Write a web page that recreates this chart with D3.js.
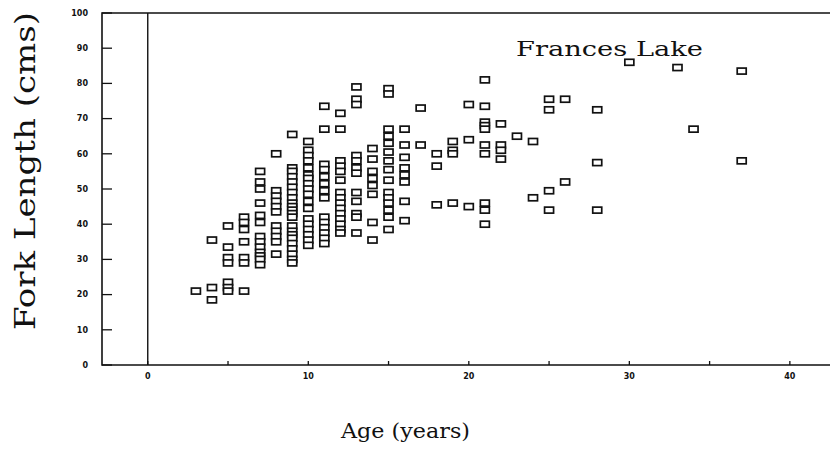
<!DOCTYPE html>
<html>
<head>
<meta charset="utf-8">
<script src="https://cdn.jsdelivr.net/npm/d3@7/dist/d3.min.js"></script>
<style>
  html, body { margin: 0; padding: 0; background: #fff; }
  svg { display: block; }
</style>
</head>
<body>
<svg id="chart" width="830" height="454"></svg>
<script>
// ages (years) and the fork lengths (cm) read at each age
const ages = [3, 4, 5, 6, 7, 8, 9, 10, 11, 12, 13, 14, 15, 16, 17, 18, 19, 20, 21, 22, 23, 24, 25, 26, 28, 30, 33, 34, 37];
const lengths = [
  [21],
  [35.5, 22, 18.5],
  [39.5, 33.5, 30.5, 29, 23.5, 22, 21],
  [42, 40.5, 38.5, 35, 30.5, 29, 21],
  [55, 52, 50, 46, 42.5, 40.5, 36.5, 35, 33.5, 32, 31, 30, 28.5],
  [60, 49.5, 48, 46.5, 45, 43.5, 39.5, 38, 36.5, 35, 31.5],
  [65.5, 56, 55, 53.5, 52, 50.5, 49, 47.5, 46, 45, 44, 43, 42, 39.5, 38, 37, 36, 34.5, 33, 31.5, 30, 29],
  [63.5, 61, 59.5, 58, 56, 54, 53, 51.5, 50, 48.5, 46.5, 44.5, 41.5, 40, 38.5, 37, 35.5, 34],
  [73.5, 67, 57, 55.5, 53.5, 51.5, 49.5, 47.5, 42, 40.5, 39, 37.5, 36, 34.5],
  [71.5, 67, 58, 56.5, 55, 52.5, 49, 47.5, 46, 44.5, 43, 41.5, 40, 38.5, 37.5],
  [79, 75.5, 74, 59.5, 58, 56, 54.5, 49, 46.5, 43, 42, 37.5],
  [61.5, 58.5, 55, 53, 51, 48.5, 40.5, 35.5],
  [78.5, 77, 67, 65, 63, 60.5, 58, 55.5, 52.5, 49, 47.5, 46, 44, 42, 38.5],
  [67, 62.5, 59, 56, 54, 52, 46.5, 41],
  [73, 62.5],
  [60, 56.5, 45.5],
  [63.5, 61, 60, 46],
  [74, 64, 45],
  [81, 73.5, 69, 68, 67, 62.5, 60, 46, 44, 40],
  [68.5, 62.5, 61, 58.5],
  [65],
  [63.5, 47.5],
  [75.5, 72.5, 49.5, 44],
  [75.5, 52],
  [72.5, 57.5, 44],
  [86],
  [84.5],
  [67],
  [83.5, 58]
];
const yTicks = [0, 10, 20, 30, 40, 50, 60, 70, 80, 90, 100];
const xLabelTicks = [0, 10, 20, 30, 40];
const xMinorTicks = [0, 5, 10, 15, 20, 25, 30, 35, 40];

const points = ages.flatMap((a, i) => lengths[i].map(v => ({ age: a, len: v })));

const svg = d3.select("#chart");
const plotLeft = 102, plotRight = 830, plotTop = 13, plotBottom = 365;

const x = d3.scaleLinear().domain([-2.85, 42.5]).range([plotLeft, plotRight]);
const y = d3.scaleLinear().domain([0, 100]).range([plotBottom, plotTop]);

const ink = "#111";
const g = svg.append("g");

// frame: top, left, bottom
g.append("path")
  .attr("d", `M${plotRight},${plotTop}H${plotLeft}V${plotBottom}H${plotRight}`)
  .attr("fill", "none").attr("stroke", ink).attr("stroke-width", 1.6);

// zero line for age
g.append("line")
  .attr("x1", x(0)).attr("x2", x(0)).attr("y1", plotTop).attr("y2", plotBottom)
  .attr("stroke", ink).attr("stroke-width", 1.4);

// y ticks (inside) + labels
g.selectAll(".ytick").data(yTicks).join("line")
  .attr("x1", plotLeft).attr("x2", plotLeft + 10)
  .attr("y1", d => y(d)).attr("y2", d => y(d))
  .attr("stroke", ink).attr("stroke-width", 1.3);

g.selectAll(".ylab").data(yTicks).join("text")
  .attr("x", 88).attr("y", d => y(d)).attr("dy", "0.35em")
  .attr("text-anchor", "end")
  .style("font", "bold 8px 'DejaVu Sans'")
  .attr("fill", ink)
  .text(d => d);

// x ticks + labels
g.selectAll(".xtick").data(xMinorTicks).join("line")
  .attr("x1", d => x(d)).attr("x2", d => x(d))
  .attr("y1", plotBottom).attr("y2", plotBottom - 4)
  .attr("stroke", ink).attr("stroke-width", 1.3);

g.selectAll(".xlab").data(xLabelTicks).join("text")
  .attr("x", d => x(d)).attr("y", plotBottom + 11).attr("dy", "0.35em")
  .attr("text-anchor", "middle")
  .style("font", "bold 8px 'DejaVu Sans'")
  .attr("fill", ink)
  .text(d => d);

// data markers
g.selectAll(".pt").data(points).join("rect")
  .attr("x", d => x(d.age) - 4.5)
  .attr("y", d => y(d.len) - 3)
  .attr("width", 9).attr("height", 6)
  .attr("fill", "#fff").attr("stroke", ink).attr("stroke-width", 1.7);

// titles
const serif = "'DejaVu Serif', 'Liberation Serif', serif";

svg.append("text")
  .attr("x", 516).attr("y", 56)
  .attr("textLength", 187).attr("lengthAdjust", "spacingAndGlyphs")
  .style("font-family", serif).style("font-size", "21px")
  .attr("fill", ink)
  .text("Frances Lake");

svg.append("text")
  .attr("x", 341).attr("y", 438)
  .attr("textLength", 129).attr("lengthAdjust", "spacingAndGlyphs")
  .style("font-family", serif).style("font-size", "21px")
  .attr("fill", ink)
  .text("Age (years)");

svg.append("text")
  .attr("transform", "translate(35,330) rotate(-90)")
  .attr("textLength", 318).attr("lengthAdjust", "spacingAndGlyphs")
  .style("font-family", serif).style("font-size", "27px")
  .attr("fill", ink)
  .text("Fork Length (cms)");
</script>
</body>
</html>
